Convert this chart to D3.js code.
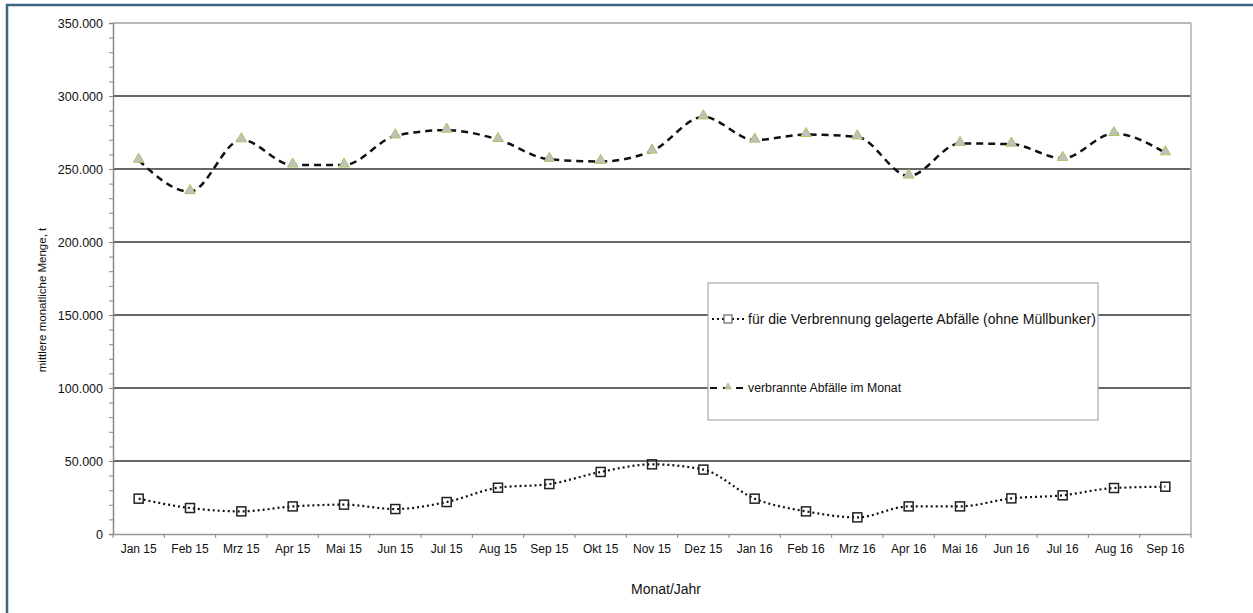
<!DOCTYPE html>
<html><head><meta charset="utf-8">
<script src="https://cdn.jsdelivr.net/npm/d3@7"></script>
<style>body{margin:0;background:#fff;} svg{display:block;font-family:"Liberation Sans",Arial,sans-serif;}</style>
</head><body>
<svg id="c" width="1253" height="613"></svg>
<script>
const categories = ["Jan 15","Feb 15","Mrz 15","Apr 15","Mai 15","Jun 15","Jul 15","Aug 15","Sep 15","Okt 15","Nov 15","Dez 15","Jan 16","Feb 16","Mrz 16","Apr 16","Mai 16","Jun 16","Jul 16","Aug 16","Sep 16"];
const gelagert = [24200,17800,15500,18900,20100,17100,21900,31700,34200,42500,47700,44100,24200,15500,11400,18900,18900,24400,26500,31500,32400];
const verbrannt = [256000,234500,270000,252700,252700,272700,276600,270200,256600,255200,262300,285700,269800,273600,272000,245200,267500,267000,257300,274300,261100];
const yTicks = [0,50000,100000,150000,200000,250000,300000,350000];
const seriesNames = ["für die Verbrennung gelagerte Abfälle (ohne Müllbunker)","verbrannte Abfälle im Monat"];

const svg = d3.select("#c");
const L=113, R=1191, T=23, B=534;
const x = d3.scaleBand().domain(categories).range([L,R]);
const y = d3.scaleLinear().domain([0,350000]).range([B,T]);
const fmt = v => v===0 ? "0" : d3.format(",")(v).replace(/,/g,".");

// outer frame
svg.append("rect").attr("x",7).attr("y",5).attr("width",1260).attr("height",640)
  .attr("fill","none").attr("stroke","#3d6680").attr("stroke-width",2.5);

// gridlines
svg.append("g").selectAll("line").data(yTicks.filter(d=>d>0 && d<350000)).join("line")
  .attr("x1",L).attr("x2",R).attr("y1",d=>y(d)).attr("y2",d=>y(d))
  .attr("stroke","#333").attr("stroke-width",1.5);
// plot frame top/right
svg.append("line").attr("x1",L).attr("x2",R).attr("y1",T).attr("y2",T).attr("stroke","#a0a0a0").attr("stroke-width",1.5);
svg.append("line").attr("x1",R).attr("x2",R).attr("y1",T).attr("y2",B).attr("stroke","#b0b0b0").attr("stroke-width",1.5);

// y axis
const ya = svg.append("g").attr("transform",`translate(${L},0)`)
  .call(d3.axisLeft(y).tickValues(yTicks).tickFormat(fmt).tickSize(4).tickPadding(6));
ya.select(".domain").attr("stroke","#888").attr("stroke-width",1.5);
ya.selectAll(".tick line").attr("stroke","#888");
ya.selectAll("text").attr("font-size",12.5).attr("fill","#111").attr("font-family","Liberation Sans,Arial,sans-serif");
const ym = svg.append("g").attr("transform",`translate(${L},0)`)
  .call(d3.axisLeft(y).tickValues(d3.range(0,350001,10000).filter(v=>v%50000)).tickFormat("").tickSize(4));
ym.select(".domain").remove();
ym.selectAll(".tick line").attr("stroke","#888");

// x axis
const xa = svg.append("g").attr("transform",`translate(0,${B})`)
  .call(d3.axisBottom(x).tickSize(0).tickPadding(10));
xa.select(".domain").attr("stroke","#999").attr("stroke-width",1.5);
xa.selectAll("text").attr("font-size",12).attr("fill","#111").attr("font-family","Liberation Sans,Arial,sans-serif");
svg.append("g").selectAll("line").data(d3.range(categories.length+1)).join("line")
  .attr("x1",i=>L+i*x.step()).attr("x2",i=>L+i*x.step()).attr("y1",B).attr("y2",B+4)
  .attr("stroke","#888");

// axis titles
svg.append("text").attr("transform","translate(46,300) rotate(-90)").attr("text-anchor","middle")
  .attr("font-size",11.5).attr("fill","#111").text("mittlere monatliche Menge, t");
svg.append("text").attr("x",666).attr("y",594).attr("text-anchor","middle")
  .attr("font-size",14).attr("fill","#111").text("Monat/Jahr");

const cx = c => x(c)+x.bandwidth()/2;
const line = d3.line().curve(d3.curveMonotoneX).x((d,i)=>cx(categories[i])).y(d=>y(d));

// verbrannt line
svg.append("path").datum(verbrannt).attr("d",line).attr("fill","none")
  .attr("stroke","#111").attr("stroke-width",2.5).attr("stroke-dasharray","7,5");
const tri = d3.symbol().type(d3.symbolTriangle).size(48);
svg.append("g").selectAll("path").data(verbrannt).join("path")
  .attr("d",tri).attr("transform",(d,i)=>`translate(${cx(categories[i])},${y(d)-1})`)
  .attr("fill","#c0c0c0").attr("stroke","#a8c860").attr("stroke-width",1);

// gelagert line
svg.append("path").datum(gelagert).attr("d",line).attr("fill","none")
  .attr("stroke","#111").attr("stroke-width",2.2).attr("stroke-dasharray","2,3");
svg.append("g").selectAll("rect").data(gelagert).join("rect")
  .attr("x",(d,i)=>cx(categories[i])-4.5).attr("y",d=>y(d)-4.5).attr("width",9).attr("height",9)
  .attr("fill","none").attr("stroke","#222").attr("stroke-width",1.5);

// legend
const lg = svg.append("g");
lg.append("rect").attr("x",708).attr("y",283).attr("width",390).attr("height",137)
  .attr("fill","#fff").attr("stroke","#aaa").attr("stroke-width",1.2);
lg.append("line").attr("x1",712).attr("x2",744).attr("y1",319).attr("y2",319)
  .attr("stroke","#111").attr("stroke-width",2).attr("stroke-dasharray","2,3");
lg.append("rect").attr("x",724).attr("y",315).attr("width",8).attr("height",8)
  .attr("fill","#fff").attr("stroke","#666").attr("stroke-width",1.2);
lg.append("text").attr("x",748).attr("y",324).attr("font-size",14).attr("fill","#111").text(seriesNames[0]);
lg.append("line").attr("x1",710).attr("x2",745).attr("y1",388).attr("y2",388)
  .attr("stroke","#111").attr("stroke-width",2).attr("stroke-dasharray","7,6");
lg.append("path").attr("d",d3.symbol().type(d3.symbolTriangle).size(20))
  .attr("transform","translate(728,387)").attr("fill","#c0c0c0").attr("stroke","#a8c860").attr("stroke-width",0.8);
lg.append("text").attr("x",748).attr("y",392).attr("font-size",12.3).attr("fill","#111").text(seriesNames[1]);
</script>
</body></html>
